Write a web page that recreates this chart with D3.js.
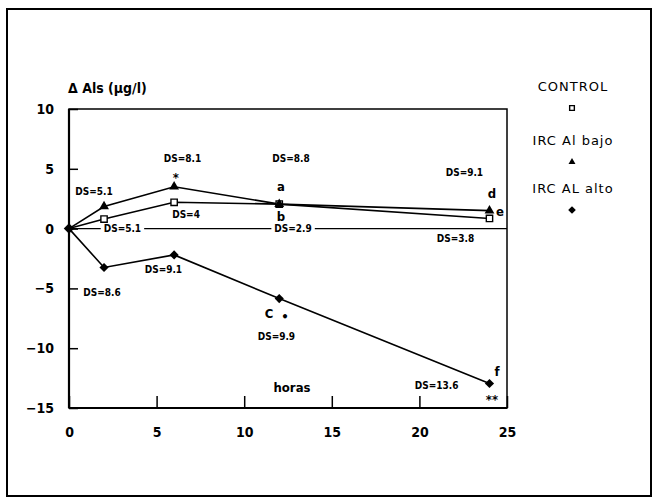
<!DOCTYPE html>
<html>
<head>
<meta charset="utf-8">
<script src="https://cdn.jsdelivr.net/npm/d3@7"></script>
<style>
  body { margin: 0; background: white; }
  text { fill: #000; }
  .lbl { font-family: "DejaVu Sans Condensed", "Liberation Sans Narrow", sans-serif; font-weight: bold; font-size: 10px; }
  .tick text { font-family: "DejaVu Sans Condensed", sans-serif; font-weight: bold; font-size: 14px; }
  .leg { font-family: "DejaVu Sans", sans-serif; font-size: 13px; letter-spacing: 1px; }
</style>
</head>
<body>
<div id="chart"></div>
<script>
// hours
const hours = [0, 2, 6, 12, 24];
// series values (delta Al serico, ug/l)
const control = [0, 0.8, 2.2, 2.05, 0.85];
const alBajo = [0, 1.85, 3.5, 2.05, 1.5];
const alAlto = [0, -3.25, -2.2, -5.85, -12.95];
const seriesNames = ["CONTROL", "IRC Al bajo", "IRC AL alto"];
const xTicks = [0, 5, 10, 15, 20, 25];
const yTicks = [10, 5, 0, -5, -10, -15];
// annotations anchored at data coordinates
const notes = [
    {t: "DS=5.1", x: 1.43, y: 3.08},
    {t: "DS=8.1", x: 6.48, y: 5.82},
    {t: "*", x: 6.1, y: 4.3, big: true},
    {t: "DS=8.8", x: 12.67, y: 5.82},
    {t: "a", x: 12.1, y: 3.56, big: true},
    {t: "b", x: 12.1, y: 1.05, big: true},
    {t: "DS=4", x: 6.68, y: 1.22},
    {t: "DS=9.1", x: 22.57, y: 4.65},
    {t: "d", x: 24.14, y: 2.98, big: true},
    {t: "e", x: 24.6, y: 1.47, big: true},
    {t: "DS=3.8", x: 22.06, y: -0.85},
    {t: "DS=9.1", x: 5.39, y: -3.38},
    {t: "DS=8.6", x: 1.88, y: -5.36},
    {t: "C", x: 11.42, y: -7.06, big: true},
    {t: "•", x: 12.33, y: -7.31, big: true},
    {t: "DS=9.9", x: 11.84, y: -9.04},
    {t: "DS=13.6", x: 20.98, y: -13.08},
    {t: "f", x: 24.43, y: -11.97, big: true},
    {t: "**", x: 24.14, y: -14.3, big: true}
];
// labels sitting on the zero line
const zeroNotes = [
    {t: "DS=5.1", x: 3.05},
    {t: "DS=2.9", x: 12.79}
];

const W = 654, H = 498;
const svg = d3.select("#chart").append("svg")
    .attr("width", W)
    .attr("height", H);

// outer frame
svg.append("rect")
    .attr("x", 7).attr("y", 9)
    .attr("width", 644).attr("height", 487)
    .attr("fill", "none")
    .attr("stroke", "#000")
    .attr("stroke-width", 2);

const x = d3.scaleLinear().domain([0, 25]).range([69, 507]);
const y = d3.scaleLinear().domain([-15, 10]).range([408, 109]);

// plot box
svg.append("rect")
    .attr("x", x(0)).attr("y", y(10))
    .attr("width", x(25) - x(0)).attr("height", y(-15) - y(10))
    .attr("fill", "none")
    .attr("stroke", "#000")
    .attr("stroke-width", 1.5);

const xAxis = svg.append("g")
    .attr("transform", "translate(0," + y(-15) + ")")
    .call(d3.axisBottom(x).tickValues(xTicks).tickSizeInner(-12).tickSizeOuter(0).tickPadding(19));
xAxis.select(".domain").remove();
xAxis.selectAll("line").attr("stroke-width", 1.5);

const yAxis = svg.append("g")
    .attr("transform", "translate(" + x(0) + ",0)")
    .call(d3.axisLeft(y).tickValues(yTicks).tickSizeInner(-9).tickSizeOuter(0).tickPadding(15));
yAxis.select(".domain").remove();
yAxis.selectAll("line").attr("stroke-width", 1.5);

// heavier left and bottom axis lines
svg.append("line")
    .attr("x1", x(0)).attr("x2", x(0)).attr("y1", y(10)).attr("y2", y(-15))
    .attr("stroke", "#000").attr("stroke-width", 2.2);
svg.append("line")
    .attr("x1", x(0)).attr("x2", x(25)).attr("y1", y(-15)).attr("y2", y(-15))
    .attr("stroke", "#000").attr("stroke-width", 2.2);

// zero line
svg.append("line")
    .attr("x1", x(0)).attr("x2", x(25)).attr("y1", y(0)).attr("y2", y(0))
    .attr("stroke", "#000").attr("stroke-width", 1.2);

const zeroG = svg.append("g");
zeroNotes.forEach(n => {
    const bg = zeroG.append("rect").attr("fill", "white");
    const t = zeroG.append("text").attr("class", "lbl")
        .attr("x", x(n.x)).attr("y", y(0))
        .attr("dy", "0.35em")
        .attr("text-anchor", "middle")
        .text(n.t);
    const b = t.node().getBBox();
    bg.attr("x", b.x - 3).attr("y", b.y)
        .attr("width", b.width + 6).attr("height", b.height);
});

// axis titles
svg.append("text")
    .attr("x", 68).attr("y", 93)
    .style("font-family", "DejaVu Sans Condensed, sans-serif")
    .style("font-weight", "bold")
    .style("font-size", "14px")
    .text("Δ Als (µg/l)");
svg.append("text")
    .attr("x", 292).attr("y", 392)
    .attr("text-anchor", "middle")
    .style("font-family", "DejaVu Sans Condensed, sans-serif")
    .style("font-weight", "bold")
    .style("font-size", "13px")
    .text("horas");

const line = d3.line()
    .x((d, i) => x(hours[i]))
    .y(d => y(d));

const allSeries = [control, alBajo, alAlto];
allSeries.forEach(s => {
    svg.append("path")
        .attr("d", line(s))
        .attr("fill", "none")
        .attr("stroke", "#000")
        .attr("stroke-width", 1.6);
});

const symTypes = [d3.symbolSquare, d3.symbolTriangle, d3.symbolSquare];
const symSizes = [40, 42, 42];

function marker(g, k, cx, cy, s) {
    const p = g.append("path")
        .attr("d", d3.symbol().type(symTypes[k]).size(symSizes[k] * s)())
        .attr("transform", "translate(" + cx + "," + cy + ")" + (k === 2 ? " rotate(45)" : ""));
    if (k === 0) {
        p.attr("fill", "white").attr("stroke", "#000").attr("stroke-width", 1.4);
    } else {
        p.attr("fill", "#000");
    }
}

allSeries.forEach((s, k) => {
    s.forEach((v, i) => {
        if (i === 0) return;
        marker(svg, k, x(hours[i]), y(v), 1);
    });
});
// common origin point
marker(svg, 2, x(0), y(0), 1.3);

notes.forEach(n => {
    svg.append("text")
        .attr("class", "lbl")
        .attr("x", x(n.x)).attr("y", y(n.y))
        .attr("dy", "0.35em")
        .attr("text-anchor", "middle")
        .style("font-size", n.big ? "13px" : null)
        .text(n.t);
});

// legend
const legY = [86, 140, 188];
const legScale = [0.55, 0.5, 0.7];
seriesNames.forEach((name, k) => {
    svg.append("text")
        .attr("class", "leg")
        .attr("x", 573).attr("y", legY[k])
        .attr("dy", "0.35em")
        .attr("text-anchor", "middle")
        .text(name);
    marker(svg, k, 572, legY[k] + 22, legScale[k]);
});
</script>
</body>
</html>
